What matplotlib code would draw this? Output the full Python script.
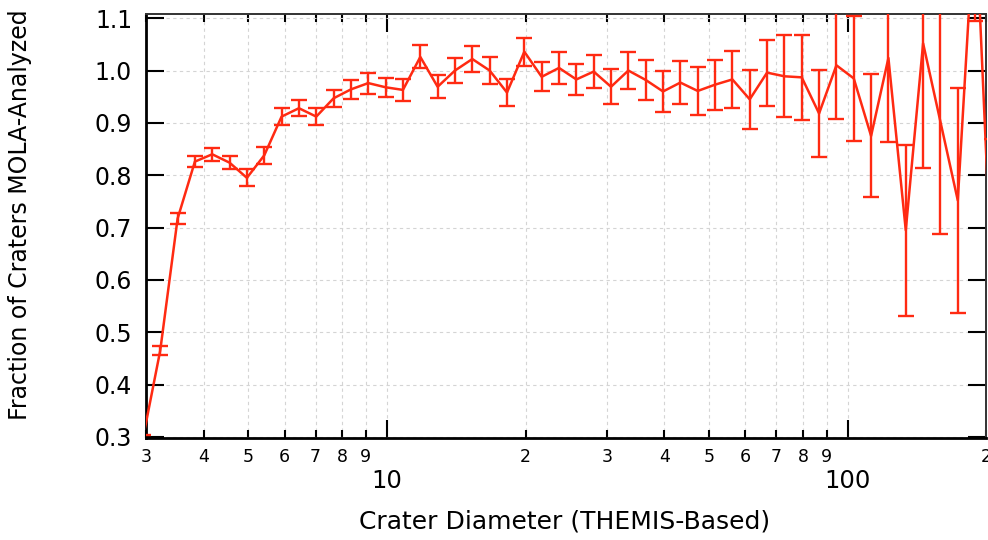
import numpy as np
import matplotlib
matplotlib.use("Agg")
import matplotlib.pyplot as plt
from matplotlib.ticker import FixedLocator, FixedFormatter

# bin centres (km) and fraction of craters analyzed, with 1-sigma errors
diameter = [2.954, 3.221, 3.513, 3.830, 4.177, 4.555, 4.967, 5.417, 5.907, 6.442,
            7.025, 7.661, 8.354, 9.110, 9.935, 10.834, 11.815, 12.884, 14.050, 15.322,
            16.709, 18.221, 19.870, 21.669, 23.630, 25.769, 28.101, 30.645, 33.418, 36.443,
            39.741, 43.339, 47.262, 51.537, 56.202, 61.289, 66.834, 72.884, 79.482, 86.676,
            94.519, 103.07, 112.40, 122.57, 133.67, 145.77, 158.96, 173.35, 189.04, 206.14]
fraction = [0.297, 0.465, 0.717, 0.826, 0.840, 0.824, 0.795, 0.838, 0.912, 0.928,
            0.912, 0.947, 0.964, 0.976, 0.968, 0.963, 1.026, 0.969, 1.000, 1.022,
            1.000, 0.958, 1.036, 0.988, 1.005, 0.983, 0.998, 0.969, 1.000, 0.982,
            0.960, 0.977, 0.961, 0.973, 0.983, 0.945, 0.996, 0.989, 0.987, 0.918,
            1.010, 0.985, 0.875, 1.024, 0.695, 1.052, 0.902, 0.752, 1.315, 0.570]
err = [0.006, 0.009, 0.0105, 0.011, 0.0125, 0.0125, 0.016, 0.016, 0.016, 0.015,
       0.016, 0.0165, 0.018, 0.020, 0.0185, 0.021, 0.022, 0.022, 0.023, 0.0255,
       0.025, 0.026, 0.027, 0.028, 0.030, 0.030, 0.031, 0.0335, 0.036, 0.0375,
       0.039, 0.0415, 0.0455, 0.048, 0.0545, 0.056, 0.063, 0.078, 0.081, 0.083,
       0.102, 0.119, 0.1175, 0.161, 0.163, 0.239, 0.215, 0.215, 0.22, 0.30]

yticks = [0.3, 0.4, 0.5, 0.6, 0.7, 0.8, 0.9, 1.0, 1.1]
major_x = [10, 100]
minor_x = [3, 4, 5, 6, 7, 8, 9, 20, 30, 40, 50, 60, 70, 80, 90, 200]
minor_labels = ["3", "4", "5", "6", "7", "8", "9", "2", "3", "4", "5", "6", "7", "8", "9", "2"]

red = "#ff2a12"

fig = plt.figure(figsize=(9.88, 5.40), dpi=100)
ax = fig.add_axes([146 / 988, 1 - 438 / 540, (986.4 - 146) / 988, (438 - 14) / 540])

ax.errorbar(diameter, fraction, yerr=err, color=red, lw=1.8, capsize=5.5,
            capthick=1.7, elinewidth=1.7, zorder=3)

ax.set_xscale("log")
ax.set_xlim(3, 200)
ax.set_ylim(0.298, 1.108)

ax.xaxis.set_major_locator(FixedLocator(major_x))
ax.xaxis.set_major_formatter(FixedFormatter(["10", "100"]))
ax.xaxis.set_minor_locator(FixedLocator(minor_x))
ax.xaxis.set_minor_formatter(FixedFormatter(minor_labels))
ax.set_yticks(yticks)
ax.set_yticklabels(["%.1f" % v for v in yticks])

ax.tick_params(axis="both", which="both", direction="in", top=True, right=True,
               color="black", width=1.5)
ax.tick_params(axis="x", which="major", length=13, labelsize=17.5, pad=22)
ax.tick_params(axis="x", which="minor", length=6, labelsize=12.5, pad=7)
ax.tick_params(axis="y", which="major", length=13, labelsize=17, pad=10)

ax.grid(True, which="both", axis="x", color="#d4d4d4", ls=(0, (3, 3)), lw=0.8)
ax.grid(True, which="major", axis="y", color="#d4d4d4", ls=(0, (3, 3)), lw=0.8)
ax.set_axisbelow(True)

for side in ["left", "bottom"]:
    ax.spines[side].set_linewidth(2.0)
for side in ["top", "right"]:
    ax.spines[side].set_linewidth(1.4)
    ax.spines[side].set_color("#333333")

fig.text(565 / 988, 1 - 522 / 540, "Crater Diameter (THEMIS-Based)", fontsize=18,
         ha="center", va="center")
fig.text(20 / 988, 1 - 215 / 540, "Fraction of Craters MOLA-Analyzed", fontsize=17,
         ha="center", va="center", rotation=90)

fig.savefig("out.png", dpi=100)
